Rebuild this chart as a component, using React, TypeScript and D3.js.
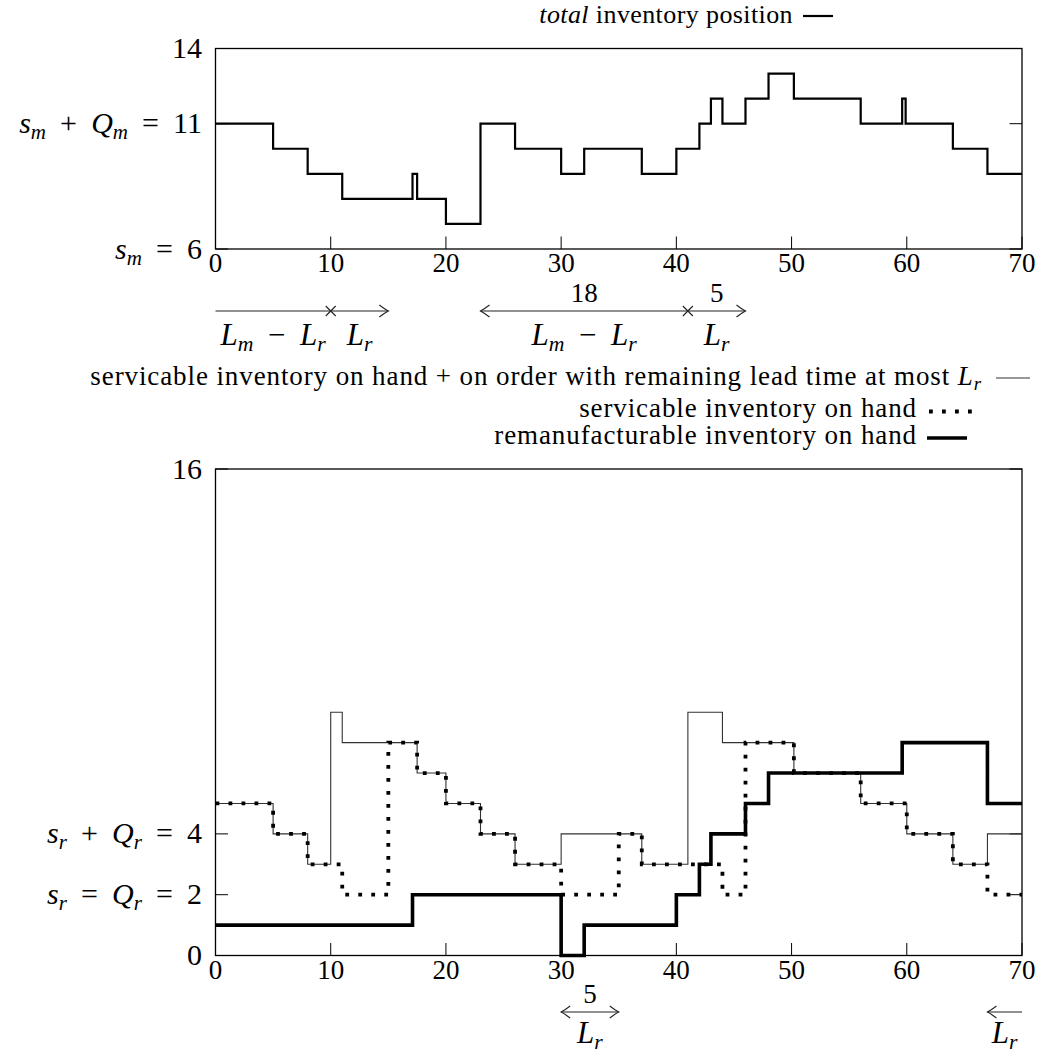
import React from 'react'
import * as d3 from 'd3'

// top panel: total inventory position, value holds from each time until the next
const totalTimes = [0, 5, 8, 11, 17.1, 17.5, 20, 23, 26, 30, 32, 37, 40, 42, 43, 44, 46, 48, 50.2, 56, 59.6, 59.9, 64, 67, 70]
const totalLevels = [11, 10, 9, 8, 9, 8, 7, 11, 10, 9, 10, 9, 10, 11, 12, 11, 12, 13, 12, 11, 12, 11, 10, 9, 9]

// bottom panel
const onOrderTimes = [0, 5, 8, 10, 11, 17.5, 20, 23, 26, 30, 37, 41, 44, 50.2, 56, 60, 64, 67, 70]
const onOrderLevels = [5, 4, 3, 8, 7, 6, 5, 4, 3, 4, 3, 8, 7, 6, 5, 4, 3, 4, 4]

const onHandTimes = [0, 5, 8, 11, 15, 17.5, 20, 23, 26, 30, 35, 37, 44, 46, 50.2, 56, 60, 64, 67, 70]
const onHandLevels = [5, 4, 3, 2, 7, 6, 5, 4, 3, 2, 4, 3, 2, 7, 6, 5, 4, 3, 2, 2]

const remanTimes = [0, 17.1, 30, 32, 40, 42, 43, 46, 48, 59.6, 67, 70]
const remanLevels = [1, 2, 0, 1, 2, 3, 4, 5, 6, 7, 5, 5]

const xTicks = [0, 10, 20, 30, 40, 50, 60, 70]
const topYTicks = [6, 11, 14]
const topYLabels = ['$s_m = 6$', '$s_m + Q_m = 11$', '14']
const botYTicks = [0, 2, 4, 16]
const botYLabels = ['0', '$s_r = Q_r = 2$', '$s_r + Q_r = 4$', '16']

const topLegend = '$total$ inventory position'
const botLegend = [
  'servicable inventory on hand + on order with remaining lead time at most $L_r$',
  'servicable inventory on hand',
  'remanufacturable inventory on hand',
]

// lead time markers (in time units)
const midLeads = [
  { start: 0, split: 10, end: 15, both: false, over: ['', ''] },
  { start: 23, split: 41, end: 46, both: true, over: ['18', '5'] },
]
const midUnder = ['$L_m \u2212 L_r$', '$L_r$']
const botLeads = [
  { from: 30, to: 35, both: true, over: '5', under: '$L_r$' },
  { from: 70, to: 67, both: false, over: '', under: '$L_r$' },
]

const FONT = '"Liberation Serif", "DejaVu Serif", serif'

type Seg = { text: string; italic: boolean; sub: boolean; gap: boolean }

// tiny $..$ parser: letters in math are italic, _x makes a subscript,
// spaces in math get the wider operator spacing
function parseTex(s: string): Seg[] {
  const out: Seg[] = []
  let math = false
  for (let i = 0; i < s.length; i++) {
    let c = s[i]
    if (c === '$') { math = !math; continue }
    if (math && c === ' ') { out.push({ text: ' ', italic: false, sub: false, gap: true }); continue }
    let sub = false
    if (math && c === '_') { sub = true; i++; c = s[i] }
    const italic = math && /[A-Za-z]/.test(c)
    const last = out[out.length - 1]
    if (last && !last.gap && last.italic === italic && last.sub === sub && !sub) last.text += c
    else out.push({ text: c, italic, sub, gap: false })
  }
  return out
}

const Tex = ({ s, x, y, size, anchor = 'start', spacing = 0 }: { s: string; x: number; y: number; size: number; anchor?: string; spacing?: number }) => {
  const segs = parseTex(s)
  const shift = size * 0.2
  let down = false
  return (
    <text x={x} y={y} textAnchor={anchor} fontFamily={FONT} fontSize={size} letterSpacing={spacing || undefined} style={{ whiteSpace: 'pre' }}>
      {segs.map((g, i) => {
        let dy = 0
        if (g.sub && !down) { dy = shift; down = true }
        else if (!g.sub && down) { dy = -shift; down = false }
        return (
          <tspan key={i} dy={dy || undefined} dx={g.gap ? size * 0.22 : undefined} fontStyle={g.italic ? 'italic' : 'normal'} fontSize={g.sub ? size * 0.7 : size}>
            {g.text}
          </tspan>
        )
      })}
    </text>
  )
}

const head = (tip: number, y: number, dir: number) =>
  `M${tip - dir * 9},${y - 6} Q${tip - dir * 3},${y - 1.5} ${tip},${y} Q${tip - dir * 3},${y + 1.5} ${tip - dir * 9},${y + 6}`

const Cross = ({ cx, cy }: { cx: number; cy: number }) => (
  <path d={`M${cx - 5},${cy - 5}L${cx + 5},${cy + 5}M${cx - 5},${cy + 5}L${cx + 5},${cy - 5}`} stroke="#222" strokeWidth={1.1} />
)

const App = () => {
  const x = d3.scaleLinear().domain([0, 70]).range([215.5, 1022])
  const yTop = d3.scaleLinear().domain([6, 14]).range([249, 48.5])
  const yBot = d3.scaleLinear().domain([0, 16]).range([955.5, 469])

  const step = (ts: number[], vs: number[], y: d3.ScaleLinear<number, number>) =>
    d3.line<number>()
      .x((_, i) => x(ts[i]))
      .y(d => y(d))
      .curve(d3.curveStepAfter)(vs) || ''

  const tickLen = 12.5

  const frame = (y: d3.ScaleLinear<number, number>, yTicks: number[], yLabels: string[]) => {
    const [y0, y1] = y.range()
    return (
      <g>
        <rect x={x(0)} y={y1} width={x(70) - x(0)} height={y0 - y1} fill="none" stroke="#000" strokeWidth={1.3} />
        {xTicks.map(t => (
          <g key={t}>
            <line x1={x(t)} x2={x(t)} y1={y0} y2={y0 - tickLen} stroke="#000" strokeWidth={1} />
            <text x={x(t)} y={y0 + 23} textAnchor="middle" fontFamily={FONT} fontSize={27}>{t}</text>
          </g>
        ))}
        {yTicks.map((t, i) => (
          <g key={t}>
            <line x1={x(0)} x2={x(0) + tickLen} y1={y(t)} y2={y(t)} stroke="#000" strokeWidth={1} />
            <line x1={x(70)} x2={x(70) - tickLen} y1={y(t)} y2={y(t)} stroke="#000" strokeWidth={1} />
            <Tex s={yLabels[i]} x={202} y={y(t) + 9.5} size={30} anchor="end" />
          </g>
        ))}
      </g>
    )
  }

  const midY = 311
  const lowY = 1012

  return (
    <svg width={1039} height={1057} fontFamily={FONT} style={{ position: 'absolute', left: 0, top: 0, background: '#fff' }}>
      {/* top legend */}
      <Tex s={topLegend} x={793} y={23} size={26} anchor="end" spacing={0.4} />
      <line x1={803} x2={833} y1={16} y2={16} stroke="#000" strokeWidth={2.2} />

      {/* top panel */}
      {frame(yTop, topYTicks, topYLabels)}
      <path d={step(totalTimes, totalLevels, yTop)} fill="none" stroke="#000" strokeWidth={2.2} />

      {/* lead time spans between panels */}
      {midLeads.map((a, i) => (
        <g key={i} fill="none" stroke="#222" strokeWidth={1.1}>
          <line x1={x(a.start)} x2={x(a.end)} y1={midY} y2={midY} />
          <path d={head(x(a.end), midY, 1)} />
          {a.both && <path d={head(x(a.start), midY, -1)} />}
          <Cross cx={x(a.split)} cy={midY} />
          <g stroke="none" fill="#000">
            {a.over[0] && <Tex s={a.over[0]} x={x((a.start + a.split) / 2)} y={midY - 9} size={27} anchor="middle" />}
            {a.over[1] && <Tex s={a.over[1]} x={x((a.split + a.end) / 2)} y={midY - 9} size={27} anchor="middle" />}
            <Tex s={midUnder[0]} x={x((a.start + a.split) / 2)} y={345} size={31} anchor="middle" />
            <Tex s={midUnder[1]} x={x((a.split + a.end) / 2)} y={345} size={31} anchor="middle" />
          </g>
        </g>
      ))}

      {/* bottom legend */}
      <Tex s={botLegend[0]} x={982} y={385} size={27} anchor="end" spacing={0.9} />
      <line x1={996} x2={1030} y1={378} y2={378} stroke="#333" strokeWidth={1.1} />
      <Tex s={botLegend[1]} x={917} y={417} size={27} anchor="end" spacing={0.9} />
      <line x1={929} x2={976} y1={411.5} y2={411.5} stroke="#000" strokeWidth={3.8} strokeDasharray="3.8 9.2" />
      <Tex s={botLegend[2]} x={917} y={444} size={27} anchor="end" spacing={0.9} />
      <line x1={927} x2={967} y1={438} y2={438} stroke="#000" strokeWidth={3.6} />

      {/* bottom panel */}
      {frame(yBot, botYTicks, botYLabels)}
      <path d={step(onOrderTimes, onOrderLevels, yBot)} fill="none" stroke="#333" strokeWidth={1.1} />
      <path d={step(onHandTimes, onHandLevels, yBot)} fill="none" stroke="#000" strokeWidth={3.8} strokeDasharray="3.8 9.2" />
      <path d={step(remanTimes, remanLevels, yBot)} fill="none" stroke="#000" strokeWidth={3.6} />

      {/* lead time spans under bottom panel */}
      {botLeads.map((a, i) => {
        const dir = a.to > a.from ? 1 : -1
        const mid = (a.from + a.to) / 2
        return (
          <g key={i} fill="none" stroke="#222" strokeWidth={1.1}>
            <line x1={x(a.from)} x2={x(a.to)} y1={lowY} y2={lowY} />
            <path d={head(x(a.to), lowY, dir)} />
            {a.both && <path d={head(x(a.from), lowY, -dir)} />}
            <g stroke="none" fill="#000">
              {a.over && <Tex s={a.over} x={x(mid)} y={lowY - 9} size={27} anchor="middle" />}
              <Tex s={a.under} x={x(mid)} y={1043} size={31} anchor="middle" />
            </g>
          </g>
        )
      })}
    </svg>
  )
}

export default App
